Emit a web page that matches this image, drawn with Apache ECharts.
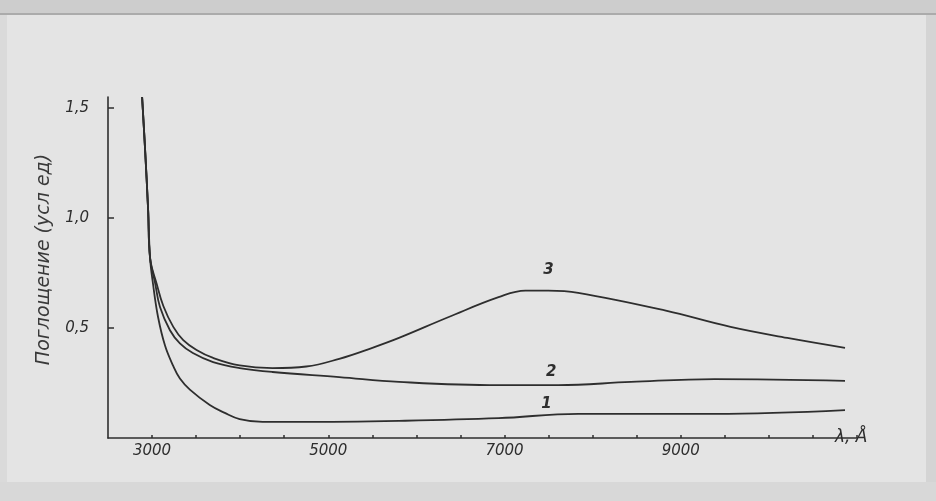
<!DOCTYPE html>
<html>
<head>
<meta charset="utf-8">
<script src="https://cdn.jsdelivr.net/npm/echarts@6/dist/echarts.min.js"></script>
<style>
  html, body { margin: 0; padding: 0; background: #e4e4e4; }
  #chart { width: 936px; height: 501px; }
</style>
</head>
<body>
<div id="chart"></div>
<script>
// Absorption spectra: wavelength (Å) vs absorbance (arb. units)
const wave1 = [2887, 2921, 2955, 2977, 3011, 3068, 3147, 3237, 3316, 3429, 3655, 3825, 3994, 4254, 4672, 5802, 6932, 7836, 9384, 10864];
const abs1  = [1.55, 1.31, 1.04, 0.82, 0.70, 0.55, 0.42, 0.33, 0.27, 0.22, 0.15, 0.114, 0.086, 0.073, 0.073, 0.078, 0.09, 0.11, 0.11, 0.127];

const wave2 = [2887, 2921, 2955, 2977, 3034, 3090, 3203, 3316, 3463, 3693, 3994, 4367, 5124, 5802, 6932, 7610, 8435, 9384, 10864];
const abs2  = [1.55, 1.31, 1.04, 0.82, 0.705, 0.595, 0.49, 0.43, 0.386, 0.345, 0.318, 0.30, 0.277, 0.255, 0.24, 0.24, 0.255, 0.268, 0.26];

const wave3 = [2887, 2921, 2955, 2977, 3053, 3128, 3241, 3354, 3505, 3693, 3994, 4367, 4750, 5124, 5500, 5802, 6367, 6932, 7237, 7497, 7836, 8819, 9565, 10209, 10864];
const abs3  = [1.55, 1.31, 1.04, 0.82, 0.70, 0.60, 0.505, 0.445, 0.40, 0.364, 0.33, 0.318, 0.325, 0.36, 0.41, 0.455, 0.55, 0.64, 0.67, 0.67, 0.66, 0.58, 0.505, 0.455, 0.41];

const curveNames = ['1', '2', '3'];
const curveLabelPos = [[7475, 0.155], [7530, 0.30], [7500, 0.765]];

const xTickValues = [3000, 3500, 4000, 4500, 5000, 5500, 6000, 6500, 7000, 7500, 8000, 8500, 9000, 9500, 10000, 10500, 11000];
const xLabelValues = [3000, 5000, 7000, 9000];
const yTickValues = [0.5, 1.0, 1.5];

const ink = '#2e2e2e';
const handFont = 'DejaVu Sans';

const zip = (xs, ys) => xs.map((x, i) => [x, ys[i]]);
const curves = [zip(wave1, abs1), zip(wave2, abs2), zip(wave3, abs3)];

const chart = echarts.init(document.getElementById('chart'), null, { renderer: 'canvas' });

chart.setOption({
  backgroundColor: '#e4e4e4',
  animation: false,
  graphic: [
    // scanned sheet edges
    { type: 'rect', shape: { x: 0, y: 0, width: 936, height: 13 }, style: { fill: '#cdcdcd' }, silent: true },
    { type: 'rect', shape: { x: 0, y: 13, width: 936, height: 2 }, style: { fill: '#ababab' }, silent: true },
    { type: 'rect', shape: { x: 0, y: 482, width: 936, height: 19 }, style: { fill: '#d8d8d8' }, silent: true },
    { type: 'rect', shape: { x: 0, y: 15, width: 7, height: 467 }, style: { fill: '#dadada' }, silent: true },
    { type: 'rect', shape: { x: 926, y: 15, width: 10, height: 467 }, style: { fill: '#d4d4d4' }, silent: true }
  ],
  grid: { left: 108, right: 79, top: 97, bottom: 63, containLabel: false },
  xAxis: {
    type: 'value',
    min: 2500,
    max: 11000,
    name: 'λ, Å',
    nameLocation: 'end',
    nameGap: -22,
    nameTextStyle: { color: ink, fontFamily: handFont, fontStyle: 'italic', fontSize: 17, verticalAlign: 'middle', padding: [2, 0, 0, 0] },
    axisLine: { lineStyle: { color: ink, width: 1.6 } },
    axisTick: { show: true, inside: true, length: 3, lineStyle: { color: ink, width: 1.5 }, customValues: xTickValues },
    axisLabel: {
      customValues: xLabelValues,
      margin: 6,
      color: ink,
      fontFamily: handFont,
      fontStyle: 'italic',
      fontSize: 15,
      formatter: v => String(v)
    },
    splitLine: { show: false }
  },
  yAxis: {
    type: 'value',
    min: 0,
    max: 1.55,
    name: 'Поглощение (усл ед)',
    nameLocation: 'middle',
    nameRotate: 90,
    nameGap: 54,
    nameTextStyle: { color: '#3a3a3a', fontFamily: handFont, fontStyle: 'italic', fontSize: 19, padding: [0, 0, 0, 16] },
    axisLine: { show: true, lineStyle: { color: ink, width: 1.6 } },
    axisTick: { show: true, inside: true, length: 6, lineStyle: { color: ink, width: 1.5 }, customValues: yTickValues },
    axisLabel: {
      customValues: yTickValues,
      margin: 19,
      color: ink,
      fontFamily: handFont,
      fontStyle: 'italic',
      fontSize: 15,
      formatter: v => v.toFixed(1).replace('.', ',')
    },
    splitLine: { show: false }
  },
  series: curves.map((data, i) => ({
    type: 'line',
    name: curveNames[i],
    data: data,
    smooth: 0.4,
    showSymbol: false,
    lineStyle: { color: ink, width: 1.8 },
    markPoint: {
      symbol: 'circle',
      symbolSize: 1,
      itemStyle: { color: 'rgba(0,0,0,0)' },
      label: {
        show: true,
        position: 'inside',
        formatter: curveNames[i],
        color: ink,
        fontFamily: handFont,
        fontStyle: 'italic',
        fontWeight: 'bold',
        fontSize: 15
      },
      data: [{ coord: curveLabelPos[i] }]
    }
  }))
});
</script>
</body>
</html>
